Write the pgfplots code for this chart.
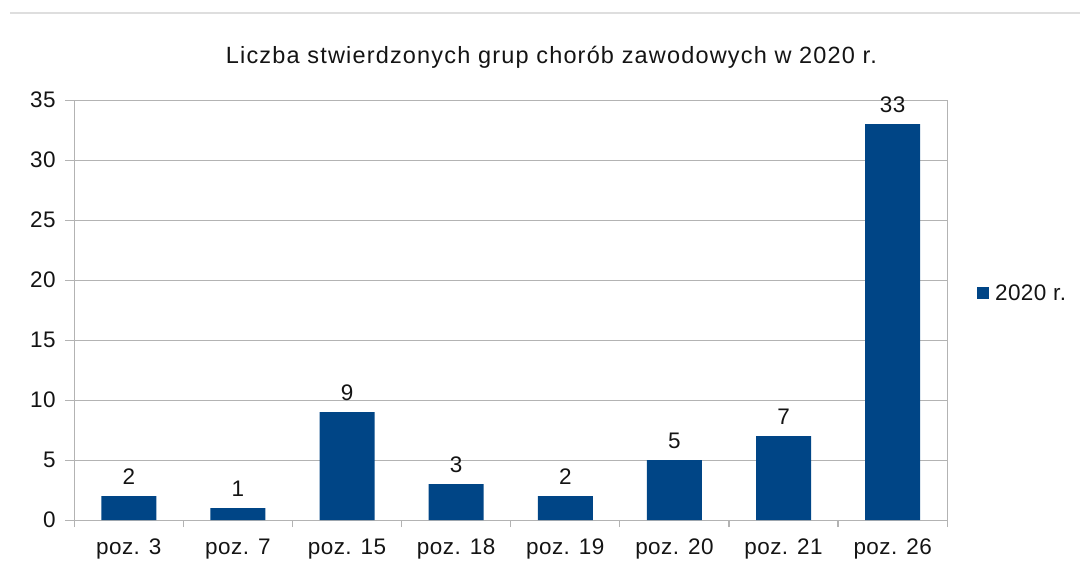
\documentclass[border=0pt]{standalone}
\usepackage{pgfplots}
\pgfplotsset{compat=1.18}
\usepackage{fontspec}
\setmainfont{Liberation Sans}
\definecolor{barblue}{HTML}{004586}
\definecolor{gridgray}{HTML}{B3B3B3}
\definecolor{txt}{HTML}{141414}
\newfontfamily\titlefont[LetterSpace=5]{Liberation Sans}
\newfontfamily\lblfont[LetterSpace=2]{Liberation Sans}
\begin{document}
\begin{tikzpicture}[x=1pt,y=1pt]
\useasboundingbox (0,0) rectangle (1080,561);
\draw[color=black!13, line width=1.2pt] (10,548) -- (1080,548);
\node[text=txt, font=\titlefont\fontsize{23.5}{26}\selectfont] at (551.5,504) {Liczba stwierdzonych grup chorób zawodowych w 2020 r.};
\begin{axis}[
  at={(68,34)}, anchor=south west,
  width=873pt, height=420pt, scale only axis,
  xmin=-0.5, xmax=7.5, ymin=0, ymax=35,
  ytick={0,5,...,35},
  xtick={0,...,7},
  xticklabels={poz. 3,poz. 7,poz. 15,poz. 18,poz. 19,poz. 20,poz. 21,poz. 26},
  minor xtick={-0.5,0.5,...,7.5},
  xtick pos=bottom, ytick pos=left,
  tick align=outside,
  major tick length=9pt,
  minor tick length=7pt,
  x tick style={draw=none},
  minor x tick style={draw=gridgray, line width=1.3pt},
  y tick style={draw=gridgray, line width=1.3pt},
  ymajorgrids,
  grid style={gridgray, line width=1.3pt},
  axis line style={gridgray, line width=1.3pt},
  tick label style={text=txt, font=\lblfont\fontsize{22.5}{26}\selectfont},
  yticklabel style={xshift=-6pt},
  xticklabel style={yshift=-6pt},
  /pgf/number format/assume math mode=true,
  ybar, bar width=55pt,
  nodes near coords,
  every node near coord/.append style={text=txt, font=\lblfont\fontsize{22.5}{26}\selectfont, inner sep=0pt, anchor=south, yshift=11pt},
  legend style={at={(axis description cs:1.034,0.54)}, anchor=west, draw=none, fill=none, inner sep=0pt,
    font=\lblfont\fontsize{22.5}{26}\selectfont, text=txt,
    nodes={inner xsep=6pt}},
  legend image code/.code={\fill[barblue] (0pt,-6pt) rectangle (12pt,6pt);},
]
\addplot[fill=barblue, draw=none] coordinates {(0,2) (1,1) (2,9) (3,3) (4,2) (5,5) (6,7) (7,33)};
\addlegendentry{2020 r.}
\end{axis}
\end{tikzpicture}
\end{document}
